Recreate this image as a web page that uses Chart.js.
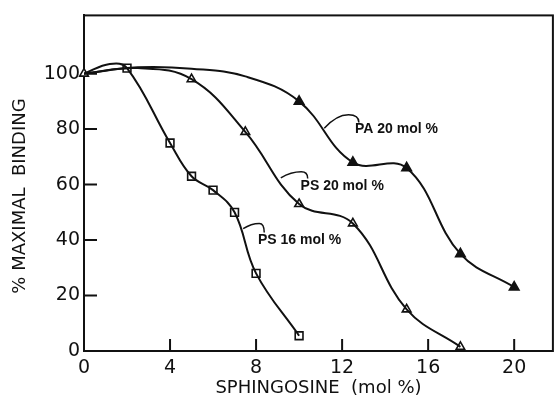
<!DOCTYPE html>
<html>
<head>
<meta charset="utf-8">
<script src="https://cdn.jsdelivr.net/npm/chart.js@4/dist/chart.umd.min.js"></script>
<style>
body{margin:0;background:#fff;}
#wrap{width:560px;height:405px;}
</style>
</head>
<body>
<div id="wrap"><canvas id="chart" width="560" height="405"></canvas></div>
<script>
// measured points (markers)
const ps16X=[2,4,5,6,7,8,10];
const ps16Y=[102,75,63,58,50,28,5.5];
const ps20X=[0,5,7.5,10,12.5,15,17.5];
const ps20Y=[100,98,79,53,46,15,1.5];
const paX=[10,12.5,15,17.5,20];
const paY=[90,68,66,35,23];

// extra points (no marker)
const ps16CurveX=[0,1.2];
const ps16CurveY=[100,103.5];
const ps20CurveX=[2.5];
const ps20CurveY=[102];
const paCurveX=[0,2.5,5,7.5];
const paCurveY=[100,102.3,101.8,99];

const xTicks=[0,4,8,12,16,20];
const yTicks=[0,20,40,60,80,100];

const xTitle="SPHINGOSINE  (mol %)";
const yTitle="% MAXIMAL  BINDING";

// curve labels, anchored in data units
const notes=[
  {text:"PA 20 mol %",x:12.6,y:80,line:[[11.17,80.3],[12.3,85.2],[12.78,82.4]]},
  {text:"PS 20 mol %",x:10.07,y:59.5,line:[[9.15,62.4],[10.1,64.6],[10.4,62.2]]},
  {text:"PS 16 mol %",x:8.09,y:39.8,line:[[7.4,44.1],[8.15,46],[8.38,42.7]]}
];

const INK="#111";

function pts(xs,ys){return xs.map((x,i)=>({x:x,y:ys[i]}));}
function curve(xs,ys,cx,cy){return pts(xs.concat(cx),ys.concat(cy)).sort((a,b)=>a.x-b.x);}

const lineSet=(data)=>({
  data:data,showLine:true,borderColor:INK,borderWidth:2,pointRadius:0,pointHoverRadius:0,
  tension:0.4,fill:false
});
const markSet=(data,style,fill,r)=>({
  data:data,showLine:false,pointStyle:style,pointRadius:r,pointHoverRadius:r,
  pointBackgroundColor:fill,pointBorderColor:INK,pointBorderWidth:1.6,clip:false
});

const frame={
  id:"frame",
  beforeDatasetsDraw(chart){
    const {ctx,chartArea:a,scales:{x,y}}=chart;
    ctx.save();
    ctx.strokeStyle=INK;ctx.lineWidth=2;
    ctx.strokeRect(a.left,a.top,a.right-a.left,a.bottom-a.top);
    ctx.beginPath();
    x.ticks.forEach(t=>{
      if(t.value===0) return;
      const px=x.getPixelForValue(t.value);
      ctx.moveTo(px,a.bottom);ctx.lineTo(px,a.bottom-12);
    });
    y.ticks.forEach(t=>{
      if(t.value===0) return;
      const py=y.getPixelForValue(t.value);
      ctx.moveTo(a.left,py);ctx.lineTo(a.left+13,py);
    });
    ctx.stroke();
    ctx.restore();
  },
  afterDraw(chart){
    const {ctx,chartArea:a,scales:{x,y}}=chart;
    ctx.save();
    ctx.fillStyle=INK;ctx.strokeStyle=INK;ctx.lineWidth=1.5;
    // y axis title
    ctx.translate(20,196);
    ctx.rotate(-Math.PI/2);
    ctx.font="18px 'DejaVu Sans'";
    ctx.textAlign="center";ctx.textBaseline="middle";
    ctx.fillText(yTitle,0,0);
    ctx.setTransform(1,0,0,1,0,0);
    // curve labels
    ctx.font="bold 14px 'Liberation Sans'";
    ctx.textAlign="left";
    notes.forEach(n=>{
      const p=n.line.map(q=>[x.getPixelForValue(q[0]),y.getPixelForValue(q[1])]);
      ctx.beginPath();
      ctx.moveTo(p[0][0],p[0][1]);
      ctx.quadraticCurveTo(p[0][0]+(p[1][0]-p[0][0])*0.5,p[1][1],p[1][0],p[1][1]);
      ctx.quadraticCurveTo(p[2][0],p[1][1],p[2][0],p[2][1]);
      ctx.stroke();
      ctx.fillText(n.text,x.getPixelForValue(n.x),y.getPixelForValue(n.y));
    });
    ctx.restore();
  }
};

new Chart(document.getElementById("chart"),{
  type:"scatter",
  data:{datasets:[
    lineSet(curve(ps16X,ps16Y,ps16CurveX,ps16CurveY)),
    lineSet(curve(ps20X,ps20Y,ps20CurveX,ps20CurveY)),
    lineSet(curve(paX,paY,paCurveX,paCurveY)),
    markSet(pts(ps16X,ps16Y),"rect","#fff",5.5),
    markSet(pts(ps20X,ps20Y),"triangle","#fff",5),
    markSet(pts(paX,paY),"triangle",INK,5.5)
  ]},
  options:{
    responsive:false,animation:false,
    layout:{padding:{top:14,right:1,left:0,bottom:0}},
    plugins:{legend:{display:false},tooltip:{enabled:false}},
    scales:{
      x:{
        type:"linear",min:0,max:21.8,
        afterBuildTicks:s=>{s.ticks=xTicks.map(v=>({value:v}));},
        afterFit:s=>{s.height=54;},
        grid:{display:true,drawOnChartArea:false,drawTicks:false},
        border:{display:true,color:INK,width:2},
        ticks:{color:INK,padding:6,font:{family:"DejaVu Sans",size:19},maxRotation:0},
        title:{display:true,text:xTitle,color:INK,font:{family:"DejaVu Sans",size:18},padding:{top:0,bottom:6}}
      },
      y:{
        type:"linear",min:0,max:121,
        afterBuildTicks:s=>{s.ticks=yTicks.map(v=>({value:v}));},
        afterFit:s=>{s.width=84;},
        grid:{display:true,drawOnChartArea:false,drawTicks:false},
        border:{display:true,color:INK,width:2},
        ticks:{color:INK,padding:4,font:{family:"DejaVu Sans",size:19}}
      }
    }
  },
  plugins:[frame]
});
</script>
</body>
</html>
